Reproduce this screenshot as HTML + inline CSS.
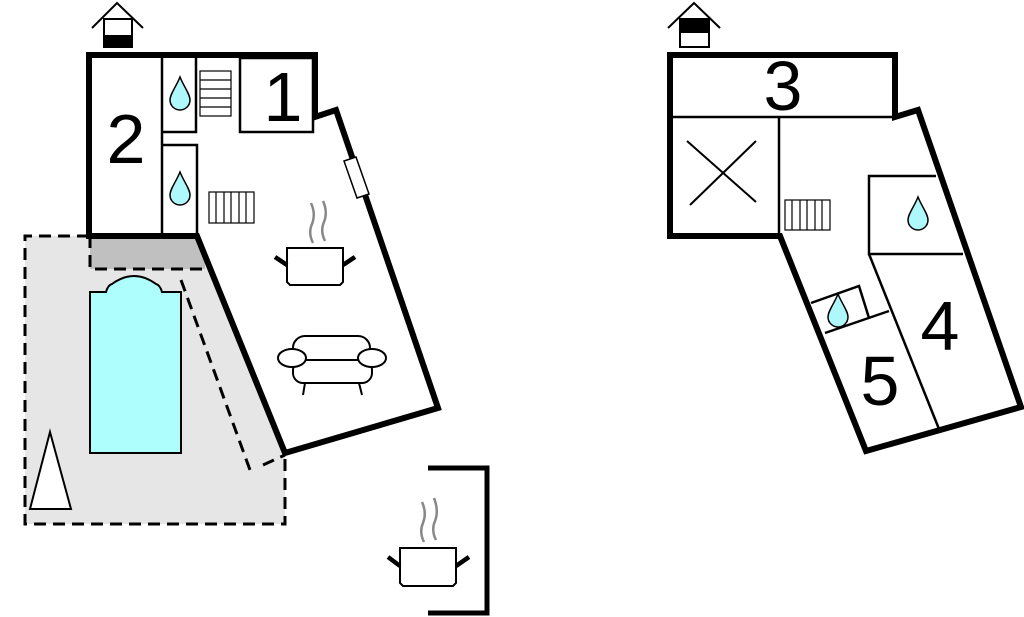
<!DOCTYPE html>
<html><head><meta charset="utf-8"><style>
html,body{margin:0;padding:0;background:#fff;}
svg{display:block;}
text{font-family:"Liberation Sans",sans-serif;fill:#000;}
</style></head><body>
<svg width="1024" height="617" viewBox="0 0 1024 617" xmlns="http://www.w3.org/2000/svg">
<defs>
<path id="drop" d="M0,-17 C-4,-7 -10,0 -10,6 C-10,12 -5,16 0,16 C5,16 10,12 10,6 C10,0 4,-7 0,-17 Z" fill="#aef8fc" stroke="#000" stroke-width="1.5"/>
</defs>
<polygon points="25,236 197,236 285,453 285,524 25,524" fill="#e6e6e6"/>
<rect x="90" y="236" width="115" height="33" fill="#c0c0c0"/>
<g fill="none" stroke="#000" stroke-width="3" stroke-dasharray="12,7">
<polyline points="89,236 25,236 25,524 285,524 285,453"/>
<polyline points="90,236 90,269 205,269"/>
<polyline points="181,280 250,470"/>
<line x1="263" y1="465" x2="285" y2="455"/>
</g>
<path d="M90,292 L106,292 Q108,285 112,284 Q134,268 156,284 Q160,285 162,292 L181,292 L181,453 L90,453 Z" fill="#aefefe" stroke="#000" stroke-width="2"/>
<polygon points="30,509 50,432 71,509" fill="#fff" stroke="#000" stroke-width="2"/>
<polygon points="89,55 315,55 315,117 336,110 438,408 285,453 197,236 89,236" fill="#fff" stroke="#000" stroke-width="6" stroke-linejoin="miter"/>
<g fill="none" stroke="#000" stroke-width="2.5">
<line x1="162" y1="57" x2="162" y2="234"/>
<polyline points="162,132 196,132 196,57"/>
<polyline points="162,145 197,145 197,234"/>
<rect x="240" y="58" width="73" height="74"/>
</g>
<g fill="#fff" stroke="#000" stroke-width="1.2">
<rect x="200" y="71" width="31" height="45"/>
<line x1="200" y1="80" x2="231" y2="80"/><line x1="200" y1="89" x2="231" y2="89"/><line x1="200" y1="98" x2="231" y2="98"/><line x1="200" y1="107" x2="231" y2="107"/>
<rect x="209" y="192" width="45" height="31"/>
<line x1="216" y1="192" x2="216" y2="223"/><line x1="224" y1="192" x2="224" y2="223"/><line x1="231" y1="192" x2="231" y2="223"/><line x1="239" y1="192" x2="239" y2="223"/><line x1="246" y1="192" x2="246" y2="223"/>
</g>
<polygon points="344,161 356,157 369,194 357,198" fill="#fff" stroke="#000" stroke-width="1.5"/>
<use href="#drop" x="180" y="94"/>
<use href="#drop" x="180" y="189"/>
<text x="126" y="163" font-size="70" text-anchor="middle">2</text>
<text x="283" y="121" font-size="70" text-anchor="middle">1</text>
<g stroke="#888" stroke-width="2.5" fill="none">
<path d="M313,243 Q308,233 312,224 Q316,214 311,203"/>
<path d="M325,241 Q320,231 324,222 Q328,212 323,201"/>
</g>
<path d="M287,248 L343,248 L343,282 L340,285 L290,285 L287,282 Z" fill="#fff" stroke="#000" stroke-width="2"/>
<line x1="275" y1="257" x2="287" y2="265" stroke="#000" stroke-width="4.5"/>
<line x1="355" y1="257" x2="343" y2="265" stroke="#000" stroke-width="4.5"/>
<g fill="#fff" stroke="#000" stroke-width="2">
<rect x="293" y="336" width="77" height="30" rx="12"/>
<rect x="293" y="360" width="79" height="23" rx="10"/>
<ellipse cx="292" cy="358" rx="14" ry="9"/>
<ellipse cx="372" cy="358" rx="14" ry="9"/>
<line x1="305" y1="383" x2="303" y2="395"/>
<line x1="359" y1="383" x2="362" y2="395"/>
</g>
<polyline points="428,468 487,468 487,613 428,613" fill="none" stroke="#000" stroke-width="5"/>
<g stroke="#888" stroke-width="2.5" fill="none">
<path d="M424,542 Q419,532 423,523 Q427,513 422,502"/>
<path d="M436,540 Q431,530 435,521 Q439,511 434,498"/>
</g>
<path d="M400,548 L456,548 L456,583 L453,586 L403,586 L400,583 Z" fill="#fff" stroke="#000" stroke-width="2"/>
<line x1="388" y1="557" x2="400" y2="566" stroke="#000" stroke-width="4.5"/>
<line x1="469" y1="557" x2="456" y2="566" stroke="#000" stroke-width="4.5"/>
<polyline points="92,28 117,3 143,28" fill="none" stroke="#000" stroke-width="2"/>
<rect x="104" y="19" width="28" height="28" fill="#fff" stroke="#000" stroke-width="2"/>
<rect x="104" y="35" width="28" height="12" fill="#000"/>
<polyline points="668,28 694,3 720,28" fill="none" stroke="#000" stroke-width="2"/>
<rect x="680" y="19" width="29" height="28" fill="#fff" stroke="#000" stroke-width="2"/>
<rect x="680" y="19" width="29" height="14" fill="#000"/>
<polygon points="670,55 895,55 895,117 918,110 1021,407 866,451 780,236 670,236" fill="#fff" stroke="#000" stroke-width="6"/>
<g fill="none" stroke="#000" stroke-width="2.5">
<line x1="672" y1="117" x2="893" y2="117"/>
<line x1="779" y1="117" x2="779" y2="234"/>
<polyline points="936,176 869,176 869,254 963,254"/>
<line x1="869" y1="254" x2="939" y2="429"/>
<polyline points="811,303 859,286 869,318"/>
<line x1="825" y1="333" x2="889" y2="311"/>
<line x1="687" y1="141" x2="756" y2="202" stroke-width="2"/>
<line x1="756" y1="141" x2="690" y2="205" stroke-width="2"/>
</g>
<g fill="#fff" stroke="#000" stroke-width="1.2">
<rect x="785" y="200" width="45" height="30"/>
<line x1="792" y1="200" x2="792" y2="230"/><line x1="800" y1="200" x2="800" y2="230"/><line x1="807" y1="200" x2="807" y2="230"/><line x1="815" y1="200" x2="815" y2="230"/><line x1="822" y1="200" x2="822" y2="230"/>
</g>
<use href="#drop" x="918" y="214"/>
<use href="#drop" x="838" y="311"/>
<text x="783" y="110" font-size="70" text-anchor="middle">3</text>
<text x="940" y="350" font-size="70" text-anchor="middle">4</text>
<text x="880" y="405" font-size="70" text-anchor="middle">5</text>
</svg>
</body></html>
